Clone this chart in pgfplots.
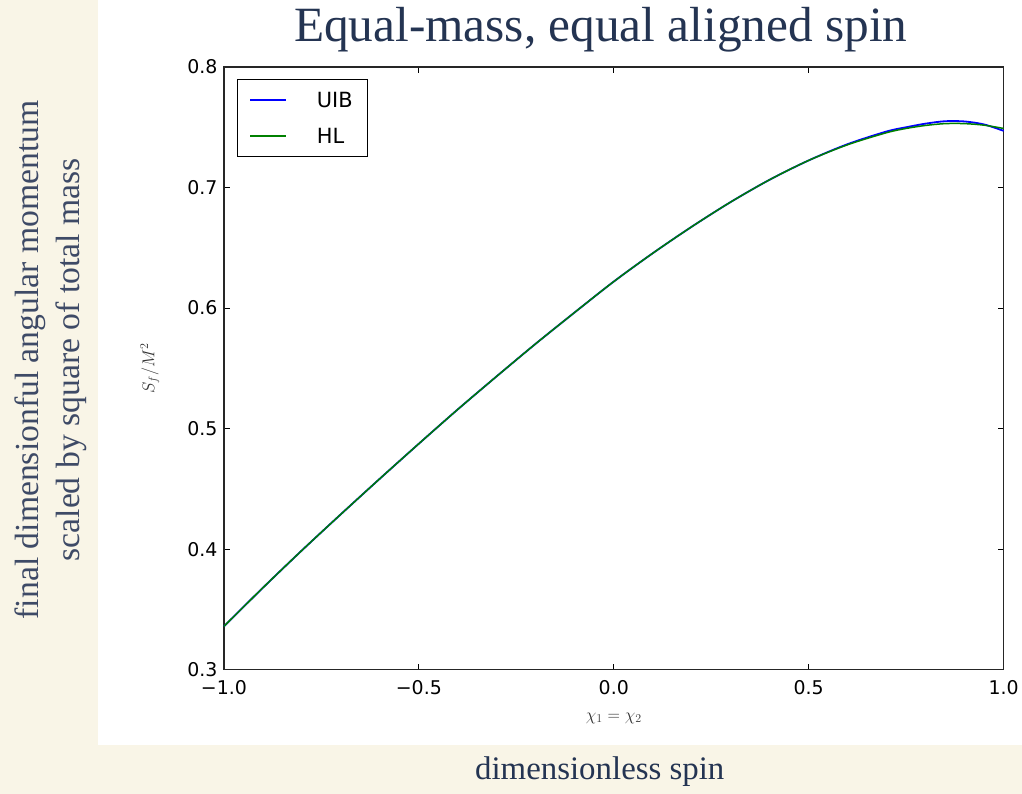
\documentclass[border=0pt]{standalone}
\usepackage{pgfplots}
\pgfplotsset{compat=1.18}
\usepackage{fontspec}
\setmainfont{Liberation Serif}
\newfontfamily\tickfont{DejaVu Sans}
\definecolor{slidebg}{RGB}{249,245,231}
\definecolor{titleblue}{RGB}{36,52,82}
\definecolor{labblue}{RGB}{62,74,102}
\definecolor{mplblue}{RGB}{0,0,255}
\definecolor{mplgreen}{RGB}{0,128,0}
\begin{document}
\begin{tikzpicture}[x=1bp,y=1bp]
\fill[slidebg] (0,0) rectangle (1022,794);
\fill[white] (98,49) rectangle (1022,794);
\begin{axis}[
  at={(224bp,124bp)}, anchor=south west,
  scale only axis, width=780bp, height=603bp,
  xmin=-1, xmax=1, ymin=0.3, ymax=0.8,
  xtick={-1,-0.5,0,0.5,1},
  xticklabels={−1.0,−0.5,0.0,0.5,1.0},
  ytick={0.3,0.4,0.5,0.6,0.7,0.8},
  yticklabels={0.3,0.4,0.5,0.6,0.7,0.8},
  tick label style={font=\tickfont\fontsize{19}{19}\selectfont, text=black},
  xticklabel style={yshift=-7bp},
  yticklabel style={xshift=-3bp},
  tick align=inside, major tick length=6bp,
  tick style={black, line width=0.8bp},
  axis line style={line width=1.3bp, black!85},
  clip=false,
  xlabel={$\chi_1=\chi_2$},
  xlabel style={at={(axis description cs:0.5,-0.08)}, anchor=center, font=\fontsize{17}{17}\selectfont, text=black!80},
  ylabel={$S_f/M^2$},
  ylabel style={at={(axis description cs:-0.095,0.5)}, anchor=center, rotate=0, font=\fontsize{17}{17}\selectfont, text=black!80},
  legend style={at={(axis description cs:0.0167,0.980)}, anchor=north west,
    draw=black, line width=1bp, font=\tickfont\fontsize{21}{21}\selectfont,
    inner xsep=12bp, inner ysep=10bp, row sep=15bp, column sep=27bp,
    nodes={inner sep=3bp, text height=15bp, text depth=0bp},
    cells={anchor=west}},
  legend image code/.code={\draw[#1, line width=1.4bp] (0bp,0bp) -- (36bp,0bp);},
]
\addplot[mplblue, line width=1.8bp, smooth] coordinates {
(-1.0,0.336) (-0.9,0.368) (-0.8,0.399) (-0.7,0.429) (-0.6,0.4585) (-0.5,0.4875)
(-0.4,0.516) (-0.3,0.5435) (-0.2,0.5705) (-0.1,0.5965) (0.0,0.622) (0.1,0.6455)
(0.2,0.6675) (0.3,0.688) (0.4,0.7065) (0.5,0.7225) (0.6,0.7360) (0.7,0.7465)
(0.75,0.7500) (0.8,0.7530) (0.85,0.7550) (0.9,0.7548) (0.95,0.7523) (1.0,0.7470)
};
\addlegendentry{UIB}
\addplot[mplgreen, line width=1.5bp, smooth] coordinates {
(-1.0,0.336) (-0.9,0.368) (-0.8,0.399) (-0.7,0.429) (-0.6,0.4585) (-0.5,0.4875)
(-0.4,0.516) (-0.3,0.5435) (-0.2,0.5705) (-0.1,0.5965) (0.0,0.622) (0.1,0.6455)
(0.2,0.6675) (0.3,0.688) (0.4,0.7065) (0.5,0.7225) (0.6,0.7355) (0.7,0.7455)
(0.75,0.7490) (0.8,0.7515) (0.85,0.7530) (0.9,0.7530) (0.95,0.7517) (1.0,0.7490)
};
\addlegendentry{HL}
\end{axis}
\node[text=titleblue, font=\fontsize{49.5}{49.5}\selectfont] at (601,764) {Equal-mass, equal aligned spin};
\node[text=labblue, rotate=90, align=center, font=\fontsize{33.8}{41}\selectfont] at (51,434) {final dimensionful angular momentum\\scaled by square of total mass};
\node[text=titleblue, font=\fontsize{33}{33}\selectfont] at (600,22) {dimensionless spin};
\end{tikzpicture}
\end{document}
